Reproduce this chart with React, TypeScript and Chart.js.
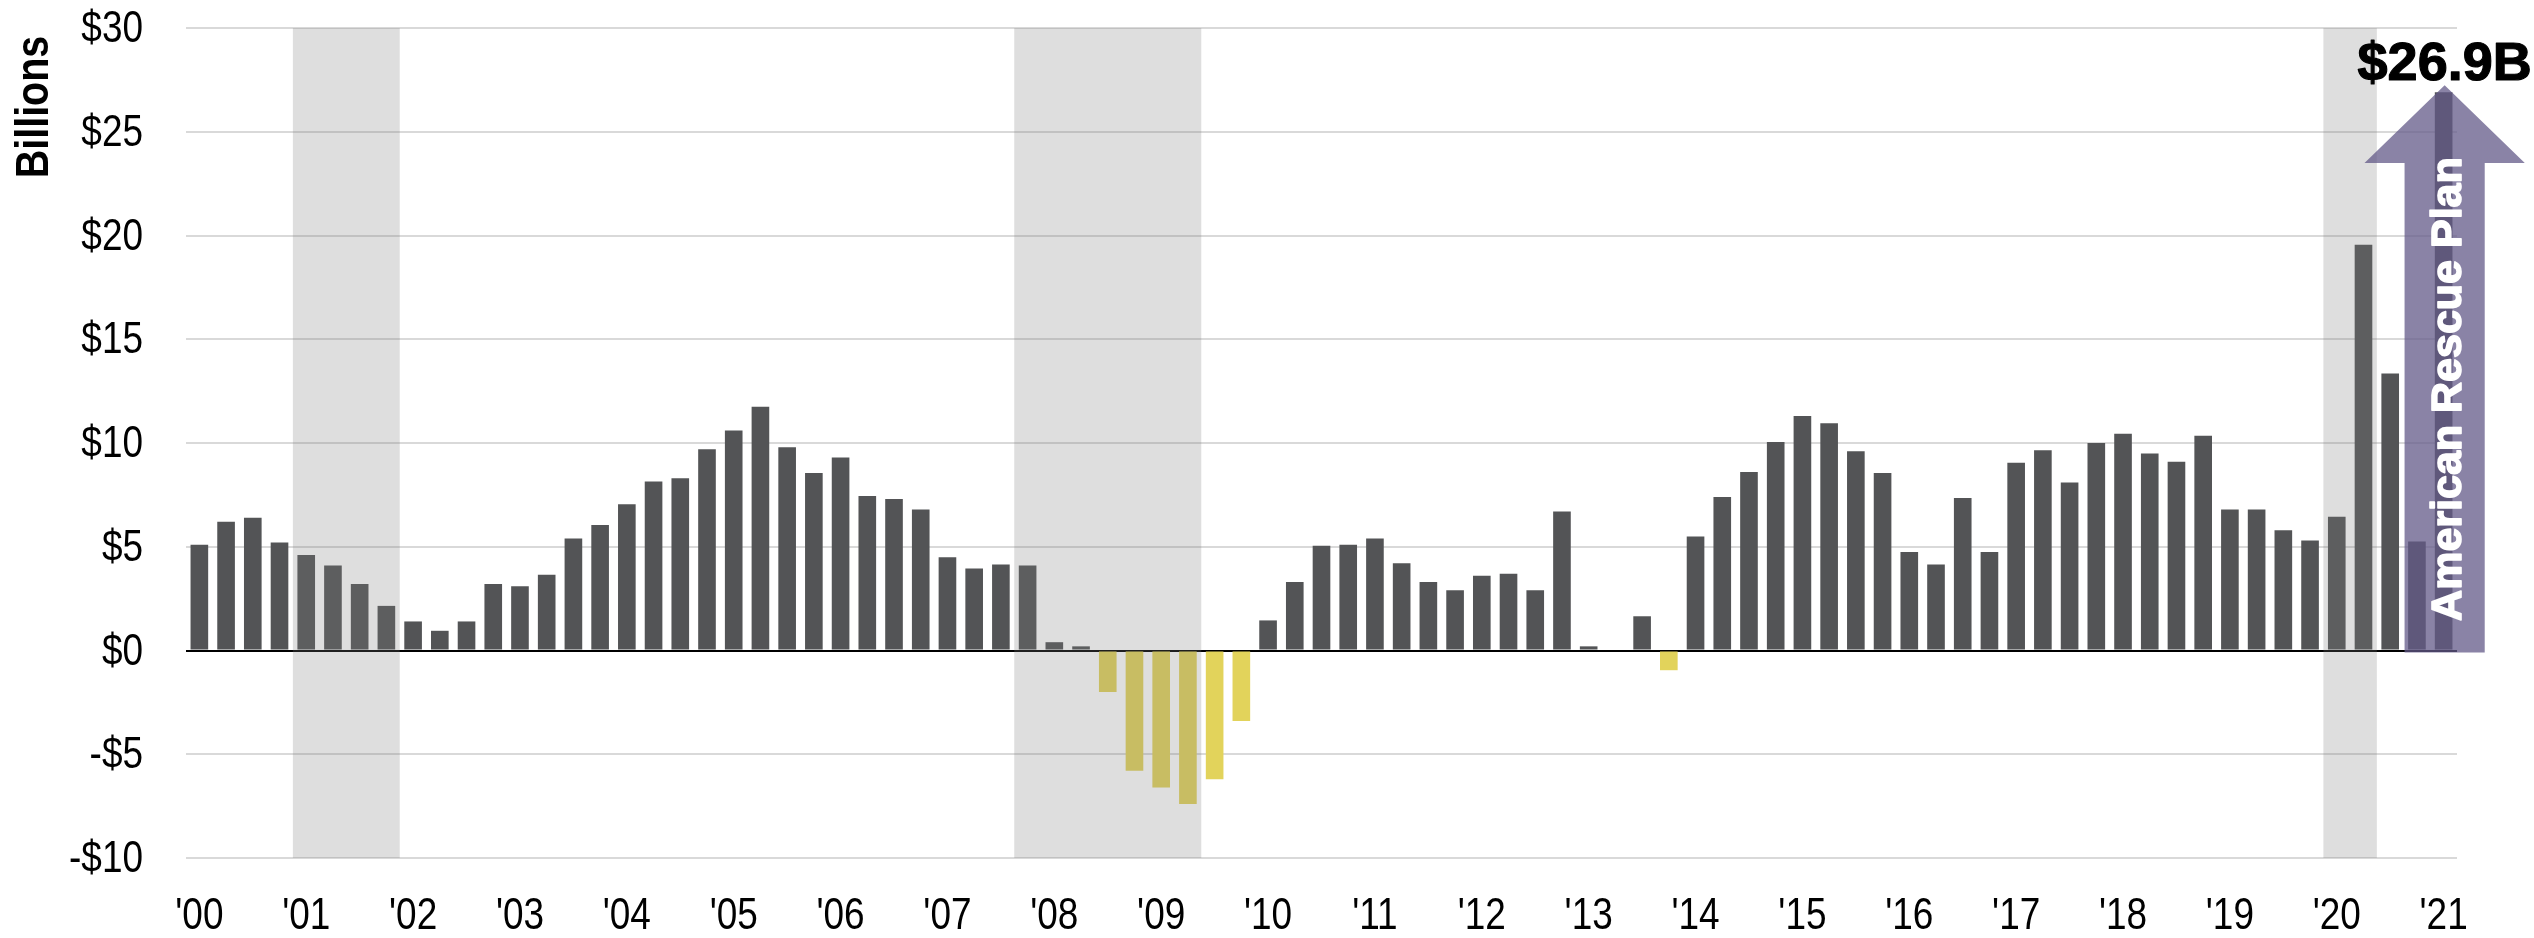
import React, { useEffect, useRef } from 'react';
import { Chart, registerables } from 'chart.js';

Chart.register(...registerables);

const quarters: string[] = [
  '2000 Q1', '2000 Q2', '2000 Q3', '2000 Q4', '2001 Q1', '2001 Q2', '2001 Q3', '2001 Q4',
  '2002 Q1', '2002 Q2', '2002 Q3', '2002 Q4', '2003 Q1', '2003 Q2', '2003 Q3', '2003 Q4',
  '2004 Q1', '2004 Q2', '2004 Q3', '2004 Q4', '2005 Q1', '2005 Q2', '2005 Q3', '2005 Q4',
  '2006 Q1', '2006 Q2', '2006 Q3', '2006 Q4', '2007 Q1', '2007 Q2', '2007 Q3', '2007 Q4',
  '2008 Q1', '2008 Q2', '2008 Q3', '2008 Q4', '2009 Q1', '2009 Q2', '2009 Q3', '2009 Q4',
  '2010 Q1', '2010 Q2', '2010 Q3', '2010 Q4', '2011 Q1', '2011 Q2', '2011 Q3', '2011 Q4',
  '2012 Q1', '2012 Q2', '2012 Q3', '2012 Q4', '2013 Q1', '2013 Q2', '2013 Q3', '2013 Q4',
  '2014 Q1', '2014 Q2', '2014 Q3', '2014 Q4', '2015 Q1', '2015 Q2', '2015 Q3', '2015 Q4',
  '2016 Q1', '2016 Q2', '2016 Q3', '2016 Q4', '2017 Q1', '2017 Q2', '2017 Q3', '2017 Q4',
  '2018 Q1', '2018 Q2', '2018 Q3', '2018 Q4', '2019 Q1', '2019 Q2', '2019 Q3', '2019 Q4',
  '2020 Q1', '2020 Q2', '2020 Q3', '2020 Q4', '2021 Q1',
];

const yearTickLabels: string[] = [
  "'00", "'01", "'02", "'03", "'04", "'05", "'06", "'07", "'08", "'09", "'10",
  "'11", "'12", "'13", "'14", "'15", "'16", "'17", "'18", "'19", "'20", "'21",
];

const flowValues: number[] = [
  5.1, 6.2, 6.4, 5.2, 4.6, 4.1, 3.2, 2.15,
  1.4, 0.95, 1.4, 3.2, 3.1, 3.65, 5.4, 6.05,
  7.05, 8.15, 8.3, 9.7, 10.6, 11.75, 9.8, 8.55,
  9.3, 7.45, 7.3, 6.8, 4.5, 3.95, 4.15, 4.1,
  0.4, 0.2, -2.0, -5.8, -6.6, -7.4, -6.2, -3.4,
  1.45, 3.3, 5.05, 5.1, 5.4, 4.2, 3.3, 2.9,
  3.6, 3.7, 2.9, 6.7, 0.2, 0, 1.65, -0.95,
  5.5, 7.4, 8.6, 10.05, 11.3, 10.95, 9.6, 8.55,
  4.75, 4.15, 7.35, 4.75, 9.05, 9.65, 8.1, 10.0,
  10.45, 9.5, 9.1, 10.35, 6.8, 6.8, 5.8, 5.3,
  6.45, 19.55, 13.35, 5.25, 26.9,
];

const yTickValues: number[] = [-10, -5, 0, 5, 10, 15, 20, 25, 30];

const recessions: [string, string][] = [
  ['2001 Q1', '2001 Q4'],
  ['2007 Q4', '2009 Q2'],
  ['2020 Q1', '2020 Q2'],
];

const arpLabel = 'American Rescue Plan';
const arpValueLabel = '$26.9B';
const arpValue = 26.9;
const yTitle = 'Billions';

const POS_COLOR = '#535456';
const NEG_COLOR = '#e2d35b';
const WIDE = '"Liberation Sans", Arial, sans-serif';
const NARROW_SCALE = 0.84;

const fmtY = (v: number) => (v < 0 ? '-$' + Math.abs(v) : '$' + v);

const shadePlugin = {
  id: 'recessionShade',
  afterDatasetsDraw(chart: any) {
    const { ctx, scales } = chart;
    const x = scales.x;
    const y = scales.y;
    const half = (x.getPixelForValue(1) - x.getPixelForValue(0)) / 2;
    const top = y.getPixelForValue(yTickValues[yTickValues.length - 1]);
    const bottom = y.getPixelForValue(yTickValues[0]);
    ctx.save();
    ctx.fillStyle = 'rgba(123,123,123,0.25)';
    for (const [s, e] of recessions) {
      const i0 = quarters.indexOf(s);
      const i1 = quarters.indexOf(e);
      const x0 = x.getPixelForValue(i0) - half;
      const x1 = x.getPixelForValue(i1) + half;
      ctx.fillRect(x0, top, x1 - x0, bottom - top);
    }
    ctx.restore();
  },
};

const tickTextPlugin = {
  id: 'narrowTicks',
  afterDraw(chart: any) {
    const { ctx, scales, chartArea } = chart;
    const x = scales.x;
    const y = scales.y;
    ctx.save();
    ctx.fillStyle = '#000000';
    ctx.font = '44px ' + WIDE;
    ctx.textAlign = 'right';
    ctx.textBaseline = 'middle';
    for (const v of yTickValues) {
      ctx.save();
      ctx.translate(chartArea.left - 43, y.getPixelForValue(v) + 2);
      ctx.scale(NARROW_SCALE, 1);
      ctx.fillText(fmtY(v), 0, 0);
      ctx.restore();
    }
    ctx.textAlign = 'center';
    ctx.textBaseline = 'alphabetic';
    yearTickLabels.forEach((lab, k) => {
      ctx.save();
      ctx.translate(x.getPixelForValue(k * 4), chartArea.bottom + 71);
      ctx.scale(NARROW_SCALE, 1);
      ctx.fillText(lab, 0, 0);
      ctx.restore();
    });

    ctx.save();
    ctx.translate(48, 107);
    ctx.rotate(-Math.PI / 2);
    ctx.scale(NARROW_SCALE, 1);
    ctx.font = 'bold 47px ' + WIDE;
    ctx.textAlign = 'center';
    ctx.textBaseline = 'alphabetic';
    ctx.fillText(yTitle, 0, 0);
    ctx.restore();
    ctx.restore();
  },
};

const annotationPlugin = {
  id: 'arpArrow',
  afterDraw(chart: any) {
    const { ctx, scales } = chart;
    const x = scales.x;
    const y = scales.y;
    const last = quarters.length - 1;
    const step = x.getPixelForValue(1) - x.getPixelForValue(0);
    const cx = x.getPixelForValue(last) + 1;
    const bodyHalf = step * 1.5;
    const headHalf = step * 3;
    const tipY = y.getPixelForValue(arpValue) - 7;
    const headBaseY = y.getPixelForValue(23.5);
    const bottomY = y.getPixelForValue(0) + 2;

    ctx.save();
    ctx.fillStyle = 'rgba(99,90,136,0.75)';
    ctx.beginPath();
    ctx.moveTo(cx, tipY);
    ctx.lineTo(cx + headHalf, headBaseY);
    ctx.lineTo(cx + bodyHalf, headBaseY);
    ctx.lineTo(cx + bodyHalf, bottomY);
    ctx.lineTo(cx - bodyHalf, bottomY);
    ctx.lineTo(cx - bodyHalf, headBaseY);
    ctx.lineTo(cx - headHalf, headBaseY);
    ctx.closePath();
    ctx.fill();

    ctx.save();
    ctx.translate(cx, y.getPixelForValue(12.6));
    ctx.rotate(-Math.PI / 2);
    ctx.fillStyle = '#ffffff';
    ctx.strokeStyle = '#ffffff';
    ctx.lineWidth = 1.6;
    ctx.lineJoin = 'round';
    ctx.font = 'bold 43px ' + WIDE;
    ctx.textAlign = 'center';
    ctx.textBaseline = 'alphabetic';
    ctx.fillText(arpLabel, 0, 16);
    ctx.strokeText(arpLabel, 0, 16);
    ctx.restore();

    ctx.fillStyle = '#000000';
    ctx.strokeStyle = '#000000';
    ctx.lineWidth = 1.2;
    ctx.lineJoin = 'round';
    ctx.font = 'bold 54px ' + WIDE;
    ctx.textAlign = 'center';
    ctx.textBaseline = 'alphabetic';
    ctx.fillText(arpValueLabel, cx, tipY - 5);
    ctx.strokeText(arpValueLabel, cx, tipY - 5);
    ctx.restore();
  },
};

export default function App() {
  const canvasRef = useRef<HTMLCanvasElement | null>(null);

  useEffect(() => {
    document.body.style.margin = '0';
    const canvas = canvasRef.current;
    if (!canvas) return;
    const chart = new Chart(canvas, {
      type: 'bar',
      data: {
        labels: quarters,
        datasets: [
          {
            data: flowValues,
            backgroundColor: flowValues.map((v) => (v < 0 ? NEG_COLOR : POS_COLOR)),
            borderWidth: 0,
            barPercentage: 0.66,
            categoryPercentage: 1,
          },
        ],
      },
      options: {
        responsive: false,
        animation: false,
        devicePixelRatio: 1,
        layout: { padding: { top: 28, right: 77, left: 0, bottom: 0 } },
        plugins: {
          legend: { display: false },
          tooltip: { enabled: false },
          title: { display: false },
        },
        scales: {
          x: {
            offset: true,
            grid: { display: false, drawTicks: false },
            border: { display: false },
            ticks: { display: false, autoSkip: false, maxRotation: 0 },
            afterFit: (scale: any) => {
              scale.height = 80;
              scale.paddingLeft = 0;
              scale.paddingRight = 0;
            },
          },
          y: {
            min: yTickValues[0],
            max: yTickValues[yTickValues.length - 1],
            afterBuildTicks: (scale: any) => {
              scale.ticks = yTickValues.map((v) => ({ value: v }));
            },
            grid: {
              drawTicks: false,
              color: (c: any) => (c.tick && c.tick.value === 0 ? '#000000' : '#d9d9d9'),
              lineWidth: 2,
            },
            border: { display: false },
            ticks: { display: false },
            afterFit: (scale: any) => {
              scale.width = 186;
              scale.paddingTop = 0;
              scale.paddingBottom = 0;
            },
          },
        },
      },
      plugins: [shadePlugin, tickTextPlugin, annotationPlugin],
    });
    return () => {
      chart.destroy();
    };
  }, []);

  return (
    <div style={{ width: 2534, height: 938, position: 'relative' }}>
      <canvas ref={canvasRef} width={2534} height={938} style={{ display: 'block' }} />
    </div>
  );
}
